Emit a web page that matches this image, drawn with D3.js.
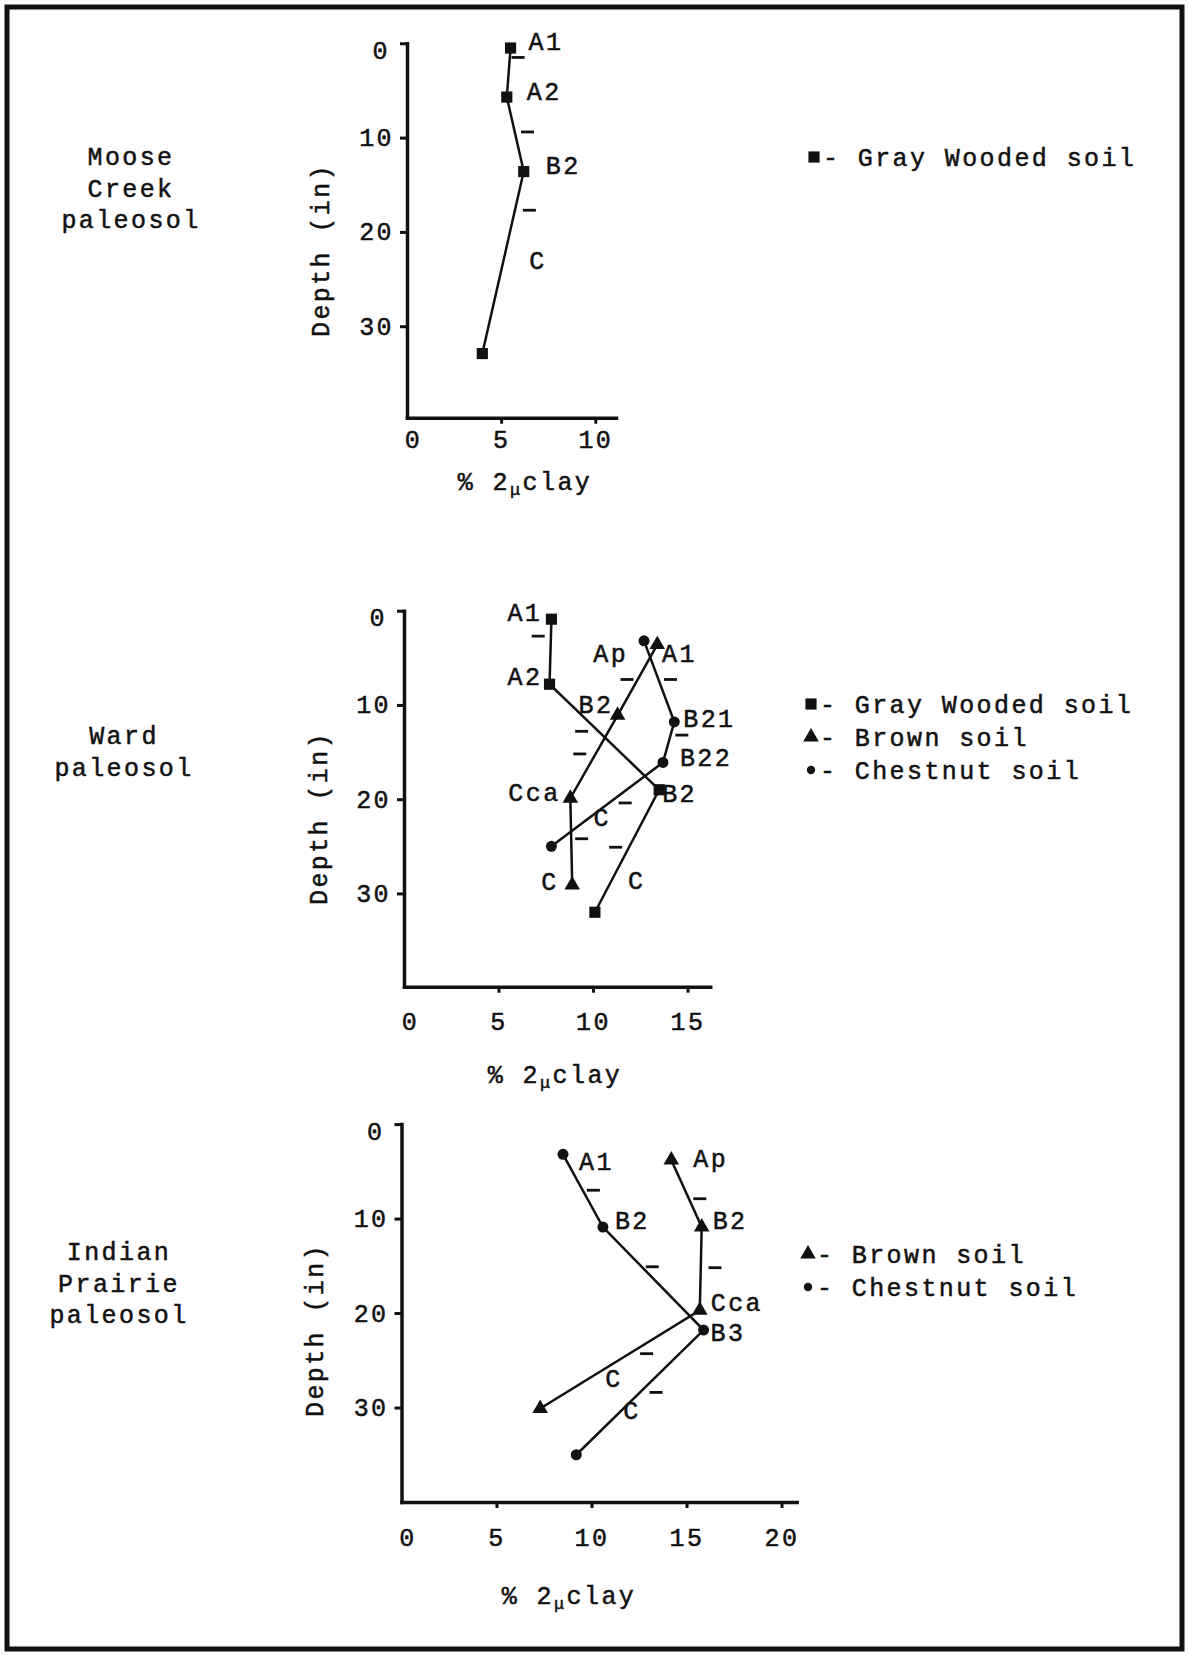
<!DOCTYPE html>
<html>
<head>
<meta charset="utf-8">
<script src="https://cdn.jsdelivr.net/npm/d3@7"></script>
<style>
  body { margin: 0; background: #fff; }
  text { font-family: "Liberation Mono", "DejaVu Sans Mono", monospace; font-size: 25px; letter-spacing: 2.4px; fill: #111; stroke: #111; stroke-width: 0.5px; }
</style>
</head>
<body>
<div id="chart"></div>
<script>
// tick labels
const depthTicks = [0, 10, 20, 30];
const mooseClayTicks = [0, 5, 10];
const wardClayTicks = [0, 5, 10, 15];
const indianClayTicks = [0, 5, 10, 15, 20];

// names
const soilNames = ["Gray Wooded soil", "Brown soil", "Chestnut soil"];
const mooseName = ["Moose", "Creek", "paleosol"];
const wardName = ["Ward", "paleosol"];
const indianName = ["Indian", "Prairie", "paleosol"];

// Moose Creek paleosol - Gray Wooded soil
const mooseGrayHorizon = ["A1", "A2", "B2", "C"];
const mooseGrayClay = [5.5, 5.3, 6.2, 4.0];
const mooseGrayDepth = [0.5, 5.7, 13.6, 32.9];
const mooseGrayBoundClay = [5.9, 6.4, 6.5];
const mooseGrayBoundDepth = [1.5, 9.4, 17.7];

// Ward paleosol
const wardGrayHorizon = ["A1", "A2", "B2", "C"];
const wardGrayClay = [7.8, 7.7, 13.5, 10.1];
const wardGrayDepth = [0.9, 7.8, 19.0, 32.0];
const wardGrayBoundClay = [7.1, 9.3, 11.2];
const wardGrayBoundDepth = [2.7, 15.2, 25.1];

const wardBrownHorizon = ["Ap", "B2", "Cca", "C"];
const wardBrownClay = [13.4, 11.3, 8.8, 8.9];
const wardBrownDepth = [3.6, 11.1, 19.9, 29.1];
const wardBrownBoundClay = [11.8, 9.4, 9.4];
const wardBrownBoundDepth = [7.3, 12.8, 24.2];

const wardChestHorizon = ["A1", "B21", "B22", "C"];
const wardChestClay = [12.7, 14.3, 13.7, 7.8];
const wardChestDepth = [3.2, 11.8, 16.1, 25.0];
const wardChestBoundClay = [14.1, 14.7, 11.7];
const wardChestBoundDepth = [7.3, 13.2, 20.4];

// Indian Prairie paleosol
const indianBrownHorizon = ["Ap", "B2", "Cca", "C"];
const indianBrownClay = [14.2, 15.8, 15.7, 7.3];
const indianBrownDepth = [3.8, 10.9, 19.7, 30.1];
const indianBrownBoundClay = [15.7, 16.5, 12.9];
const indianBrownBoundDepth = [7.9, 15.2, 24.3];

const indianChestHorizon = ["A1", "B2", "B3", "C"];
const indianChestClay = [8.5, 10.6, 15.9, 9.2];
const indianChestDepth = [3.2, 10.9, 21.8, 35.0];
const indianChestBoundClay = [10.1, 13.2, 13.4];
const indianChestBoundDepth = [7.0, 15.1, 28.4];

const W = 1189, H = 1655;
const svg = d3.select("#chart").append("svg").attr("width", W).attr("height", H);

svg.append("rect")
  .attr("x", 7).attr("y", 7).attr("width", 1175).attr("height", 1642)
  .attr("fill", "none").attr("stroke", "#111").attr("stroke-width", 5);

const symbolOf = { gray: d3.symbolSquare, brown: d3.symbolTriangle, chest: d3.symbolCircle };
const sizeOf = { gray: 125, brown: 105, chest: 95 };

function series(soil, horizon, clay, depth, bClay, bDepth, nudge) {
  return {
    soil,
    points: horizon.map((h, i) => ({ h, clay: clay[i], depth: depth[i], nudge: nudge[i] })),
    bounds: bClay.map((c, i) => ({ clay: c, depth: bDepth[i] }))
  };
}

function drawPanel(p) {
  const x = d3.scaleLinear().domain([0, p.xEnd]).range([p.left, p.right]);
  const y = d3.scaleLinear().domain([0, p.yEnd]).range([p.top, p.bottom]);
  const g = svg.append("g");

  const gx = g.append("g")
    .attr("transform", `translate(0,${p.bottom})`)
    .call(d3.axisBottom(x).tickValues(p.xTicks).tickSize(6).tickSizeOuter(0).tickPadding(p.xPad));
  const gy = g.append("g")
    .attr("transform", `translate(${p.left},0)`)
    .call(d3.axisLeft(y).tickValues(depthTicks).tickSize(7).tickSizeOuter(0).tickPadding(6));

  [gx, gy].forEach(a => {
    a.select(".domain").attr("stroke-width", 3.5).attr("stroke-linecap", "square").attr("stroke", "#111");
    a.selectAll(".tick line").attr("stroke-width", 3).attr("stroke", "#111");
  });
  gx.selectAll(".tick").filter(d => d === 0).select("text").attr("dx", 6);
  gy.selectAll(".tick").filter(d => d === 0).select("text").attr("dx", -4).attr("dy", "0.6em");
  gx.selectAll(".tick").filter(d => d === 0).select("line").remove();

  // axis titles
  const t = g.append("text").attr("x", p.titleX).attr("y", p.titleY).attr("text-anchor", "middle");
  t.append("tspan").text("% 2");
  t.append("tspan").text("μ").style("font-size", "17px").attr("dy", 5);
  t.append("tspan").text("clay").attr("dy", -5);

  g.append("text")
    .attr("transform", `translate(${p.yTitleX},${p.yTitleY}) rotate(-90)`)
    .attr("text-anchor", "middle").attr("dy", "0.35em")
    .text("Depth (in)");

  // paleosol name
  g.selectAll(".pname").data(p.name).join("text")
    .attr("x", p.nameX).attr("y", (d, i) => p.nameY + i * 31.5)
    .attr("text-anchor", "middle").text(d => d);

  const line = d3.line().x(d => x(d.clay)).y(d => y(d.depth));

  p.series.forEach(s => {
    g.append("path").datum(s.points)
      .attr("d", line).attr("fill", "none").attr("stroke", "#111").attr("stroke-width", 2.5);
    g.selectAll(null).data(s.bounds).join("line")
      .attr("x1", d => x(d.clay) - 6.5).attr("x2", d => x(d.clay) + 6.5)
      .attr("y1", d => y(d.depth)).attr("y2", d => y(d.depth))
      .attr("stroke", "#111").attr("stroke-width", 2.8);
    g.selectAll(null).data(s.points).join("path")
      .attr("d", d3.symbol().type(symbolOf[s.soil]).size(sizeOf[s.soil]))
      .attr("transform", d => `translate(${x(d.clay)},${y(d.depth)})`)
      .attr("fill", "#111");
    g.selectAll(null).data(s.points).join("text")
      .attr("x", d => x(d.clay) + d.nudge[0]).attr("y", d => y(d.depth) + d.nudge[1])
      .text(d => d.h);
  });

  // legend
  p.legend.forEach((l, i) => {
    g.append("path")
      .attr("d", d3.symbol().type(symbolOf[l.soil]).size(l.soil === "chest" ? 55 : sizeOf[l.soil]))
      .attr("transform", `translate(${p.legX},${p.legY + i * 33})`)
      .attr("fill", "#111");
    g.append("text").attr("x", p.legX + 9).attr("y", p.legY + i * 33 + 9)
      .text("- " + l.name);
  });
}

drawPanel({
  left: 407, right: 616, top: 43.3, bottom: 417.7, xEnd: 11.1, yEnd: 39.7,
  xTicks: mooseClayTicks, xPad: 7, titleX: 525, titleY: 490, yTitleX: 320, yTitleY: 250,
  name: mooseName, nameX: 131, nameY: 165,
  series: [
    series("gray", mooseGrayHorizon, mooseGrayClay, mooseGrayDepth, mooseGrayBoundClay, mooseGrayBoundDepth,
      [[18, 2], [20, 3], [22, 2], [47, -85]])
  ],
  legend: [{ soil: "gray", name: soilNames[0] }], legX: 814, legY: 157
});

drawPanel({
  left: 404, right: 710.2, top: 610.7, bottom: 986.7, xEnd: 16.2, yEnd: 39.9,
  xTicks: wardClayTicks, xPad: 20, titleX: 555, titleY: 1083, yTitleX: 318, yTitleY: 818,
  name: wardName, nameX: 124, nameY: 744,
  series: [
    series("gray", wardGrayHorizon, wardGrayClay, wardGrayDepth, wardGrayBoundClay, wardGrayBoundDepth,
      [[-44, 2], [-42, 1], [3, 12], [33, -23]]),
    series("brown", wardBrownHorizon, wardBrownClay, wardBrownDepth, wardBrownBoundClay, wardBrownBoundDepth,
      [[-64, 17], [-39, -2], [-62, 3], [-31, 5]]),
    series("chest", wardChestHorizon, wardChestClay, wardChestDepth, wardChestBoundClay, wardChestBoundDepth,
      [[18, 21], [9, 5], [17, 4], [42, -20]])
  ],
  legend: [{ soil: "gray", name: soilNames[0] }, { soil: "brown", name: soilNames[1] }, { soil: "chest", name: soilNames[2] }],
  legX: 811, legY: 704
});

drawPanel({
  left: 401.5, right: 796.7, top: 1124.1, bottom: 1502, xEnd: 20.8, yEnd: 40,
  xTicks: indianClayTicks, xPad: 20, titleX: 569, titleY: 1604, yTitleX: 314, yTitleY: 1330,
  name: indianName, nameX: 119, nameY: 1260,
  series: [
    series("brown", indianBrownHorizon, indianBrownClay, indianBrownDepth, indianBrownBoundClay, indianBrownBoundDepth,
      [[22, 7], [11, 2], [11, 1], [65, -21]]),
    series("chest", indianChestHorizon, indianChestClay, indianChestDepth, indianChestBoundClay, indianChestBoundDepth,
      [[16, 16], [12, 2], [7, 11], [47, -36]])
  ],
  legend: [{ soil: "brown", name: soilNames[1] }, { soil: "chest", name: soilNames[2] }],
  legX: 808, legY: 1254
});
</script>
</body>
</html>
